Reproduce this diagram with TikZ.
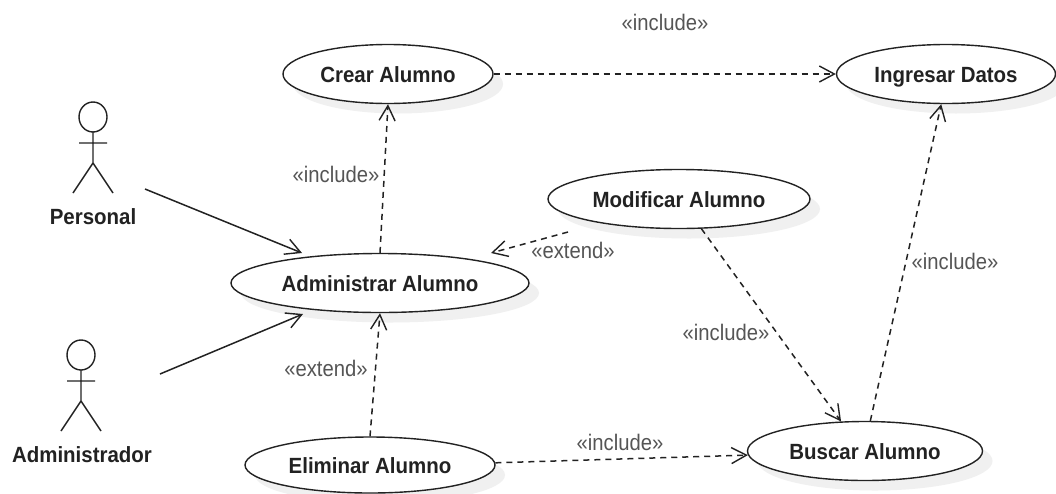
\documentclass[tikz,border=0pt]{standalone}
\usepackage{fontspec}
\setmainfont{Liberation Sans}
\newfontfamily\ucfont[FakeStretch=0.93]{Liberation Sans Bold}
\newfontfamily\stfont[FakeStretch=0.9]{Liberation Sans}
\usetikzlibrary{shapes.geometric,arrows.meta,shadows}
\definecolor{lbl}{HTML}{555555}
\definecolor{ink}{HTML}{222222}
\tikzset{
  x=1pt,y=-1pt,
  usecase/.style={ellipse,draw=ink,line width=1.4pt,fill=white,inner sep=0pt,
    minimum height=59pt,text=ink,font=\fontsize{22}{24}\ucfont,text height=16pt,text depth=0pt,
    general shadow={fill=black!6,draw=none,shadow xshift=10pt,shadow yshift=-10pt}},
  actorlabel/.style={text=ink,inner sep=0pt,font=\fontsize{22}{24}\ucfont},
  stereo/.style={text=lbl,inner sep=0pt,font=\fontsize{22.5}{24}\stfont},
  assoc/.style={draw=ink,line width=1.5pt,-{Straight Barb[length=15pt,width=16pt,line width=1.4pt]}},
  dep/.style={assoc,dash pattern=on 6pt off 5pt},
  stick/.style={draw=ink,line width=1.4pt},
}
\begin{document}
\begin{tikzpicture}
\useasboundingbox (0,0) rectangle (1056,493);
\fill[white] (0,0) rectangle (1056,493);
% use cases
\node[usecase,minimum width=210pt] (crear) at (388,74) {Crear Alumno};
\node[usecase,minimum width=219pt] (ingresar) at (946,74) {Ingresar Datos};
\node[usecase,minimum width=262pt] (modificar) at (679,199) {Modificar Alumno};
\node[usecase,minimum width=298pt] (admin) at (380,283) {Administrar Alumno};
\node[usecase,minimum width=250pt,minimum height=56pt] (eliminar) at (370,465) {Eliminar Alumno};
\node[usecase,minimum width=235pt] (buscar) at (865,451) {Buscar Alumno};
% actors
\draw[stick] (93,117) ellipse (14pt and 15pt);
\draw[stick] (93,132) -- (93,163) (79,143) -- (107,143) (73,193) -- (93,163) -- (113,193);
\node[actorlabel] (personal) at (93,217) {Personal};
\draw[stick] (81,355) ellipse (14pt and 15pt);
\draw[stick] (81,370) -- (81,401) (67,381) -- (95,381) (61,431) -- (81,401) -- (101,431);
\node[actorlabel] (administrador) at (82,455) {Administrador};
% free ends
\coordinate (pEnd) at (145,189);
\coordinate (aEnd) at (160,374);
\coordinate (pTip) at (302,253);
\coordinate (aTip) at (303,314);
\coordinate (mStart) at (568,232);
\coordinate (mTip) at (491,253);
% connectors
\draw[assoc] (pEnd) -- (pTip);
\draw[assoc] (aEnd) -- (aTip);
\draw[dep] (admin.north) -- (crear.south);
\draw[dep] (crear.east) -- (ingresar.west);
\draw[dep] (mStart) -- (mTip);
\draw[dep] (modificar.-53) -- (buscar.129);
\draw[dep] (buscar.80) -- (ingresar.-99);
\draw[dep] (eliminar.north) -- (admin.south);
\draw[dep] (eliminar.1.4) -- (buscar.182);
% labels
\node[stereo] (l1) at (665,22) {«include»};
\node[stereo] (l2) at (336,174) {«include»};
\node[stereo] (l3) at (573,250) {«extend»};
\node[stereo] (l4) at (726,332) {«include»};
\node[stereo] (l5) at (955,261) {«include»};
\node[stereo] (l6) at (326,368) {«extend»};
\node[stereo] (l7) at (620,442) {«include»};
\end{tikzpicture}
\end{document}
